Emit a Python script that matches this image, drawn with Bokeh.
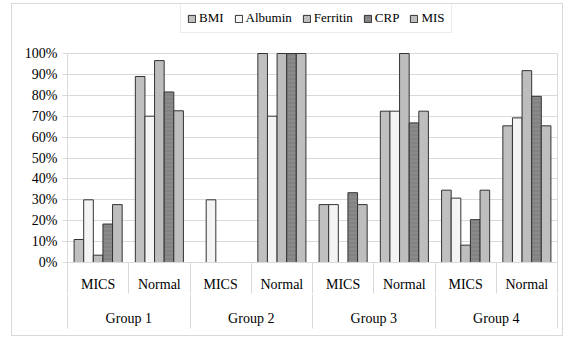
import numpy as np
from bokeh.plotting import figure
from bokeh.models import (ColumnDataSource, Range1d, LinearAxis, FixedTicker,
                          NumeralTickFormatter, Legend, LegendItem)
from bokeh.embed import file_html
from bokeh.resources import INLINE

groups = ["Group 1", "Group 2", "Group 3", "Group 4"]
subgroups = ["MICS", "Normal"]
series = ["BMI", "Albumin", "Ferritin", "CRP", "MIS"]

# values per category: G1 MICS, G1 Normal, G2 MICS, G2 Normal, G3 MICS, G3 Normal, G4 MICS, G4 Normal
bmi      = [0.11, 0.89, 0.00, 1.00, 0.277, 0.724, 0.346, 0.654]
albumin  = [0.30, 0.70, 0.30, 0.70, 0.277, 0.724, 0.308, 0.692]
ferritin = [0.035, 0.966, 0.00, 1.00, 0.00, 1.00, 0.083, 0.918]
crp      = [0.184, 0.816, 0.00, 1.00, 0.334, 0.668, 0.205, 0.795]
mis      = [0.277, 0.726, 0.00, 1.00, 0.277, 0.724, 0.346, 0.654]
values = [bmi, albumin, ferritin, crp, mis]

fills = ["#c0c0c0", "#f4f4f4", "#bdbdbd", "#8a8a8a", "#bebebe"]
hatches = [None, None, None, "horizontal_line", None]

FONT = "'Liberation Serif'"
GRID = "#d9d9d9"

n_cat = len(groups) * len(subgroups)
centers = np.arange(n_cat) + 0.5
bar_w = 0.157

# layout: frame spans full height above the category axes; the value area
# (0..100%) occupies the lower 209 px, the legend sits above it.
H, TOP, BOTTOM = 333, 1, 75
frame_h = H - TOP - BOTTOM
y_end = frame_h / 209.0

p = figure(width=552, height=H, output_backend="svg", toolbar_location=None,
           x_range=Range1d(0, n_cat), y_range=Range1d(0, y_end),
           min_border_left=55, min_border_right=7, min_border_top=TOP,
           min_border_bottom=BOTTOM, x_axis_location=None,
           styles={"margin-left": "11px", "margin-top": "3px",
                   "border": "1px solid #d9d9d9"})
p.outline_line_color = None
p.xgrid.grid_line_color = None
p.ygrid.grid_line_color = GRID
p.ygrid.ticker = FixedTicker(ticks=[i / 10 for i in range(11)])

renderers = []
for j, (name, vals) in enumerate(zip(series, values)):
    vals = np.array(vals)
    mask = vals > 0
    xs = centers[mask] + (j - 2) * bar_w
    src = ColumnDataSource(dict(x=xs, top=vals[mask]))
    kw = {}
    if hatches[j]:
        kw = dict(hatch_pattern=hatches[j], hatch_color="#6a6a6a",
                  hatch_scale=4, hatch_weight=0.6, hatch_alpha=0.8)
    r = p.vbar(x="x", top="top", bottom=0, width=bar_w, source=src,
               fill_color=fills[j], line_color="#333333", line_width=1, **kw)
    renderers.append(r)

# y axis
yax = p.yaxis[0]
yax.bounds = (0, 1)
yax.ticker = FixedTicker(ticks=[i / 10 for i in range(11)])
yax.formatter = NumeralTickFormatter(format="0%")
yax.axis_line_color = GRID
yax.major_tick_line_color = GRID
yax.major_tick_out = 5
yax.major_tick_in = 0
yax.minor_tick_line_color = None
yax.major_label_standoff = 5
yax.major_label_text_font = FONT
yax.major_label_text_font_size = "14px"
yax.major_label_text_color = "#000000"

# right edge of the plot area
rax = LinearAxis(bounds=(0, 1), ticker=FixedTicker(ticks=[]))
rax.axis_line_color = GRID
rax.major_tick_line_color = None
rax.minor_tick_line_color = None
rax.major_label_text_font_size = "0px"
rax.major_tick_out = 0
rax.major_label_standoff = 0
p.add_layout(rax, "right")

# sub-category axis
sub_labels = {float(c): subgroups[i % 2] for i, c in enumerate(centers)}
ax1 = LinearAxis(ticker=FixedTicker(ticks=list(centers),
                                    minor_ticks=list(range(n_cat + 1))))
ax1.major_label_overrides = sub_labels
ax1.major_tick_out = 0
ax1.major_tick_in = 0
ax1.major_tick_line_color = None
ax1.minor_tick_out = 31
ax1.minor_tick_in = 0
ax1.minor_tick_line_color = GRID
ax1.axis_line_color = GRID
ax1.major_label_standoff = -17
ax1.major_label_text_font = FONT
ax1.major_label_text_font_size = "14px"
ax1.major_label_text_color = "#000000"
p.add_layout(ax1, "below")

# group axis
group_centers = [float(2 * g + 1) for g in range(len(groups))]
ax2 = LinearAxis(ticker=FixedTicker(ticks=group_centers,
                                    minor_ticks=list(range(0, n_cat + 1, 2))))
ax2.major_label_overrides = {c: groups[i] for i, c in enumerate(group_centers)}
ax2.major_tick_out = 0
ax2.major_tick_in = 0
ax2.major_tick_line_color = None
ax2.minor_tick_out = 34
ax2.minor_tick_in = 0
ax2.minor_tick_line_color = GRID
ax2.axis_line_color = None
ax2.major_label_standoff = -18
ax2.major_label_text_font = FONT
ax2.major_label_text_font_size = "14px"
ax2.major_label_text_color = "#000000"
p.add_layout(ax2, "below")

legend = Legend(items=[LegendItem(label=s, renderers=[r]) for s, r in zip(series, renderers)],
                orientation="horizontal", location=(113, 229))
legend.label_text_font = FONT
legend.label_text_font_size = "13px"
legend.label_text_color = "#000000"
legend.glyph_width = 9
legend.glyph_height = 9
legend.label_standoff = 3
legend.spacing = 10
legend.padding = 6
legend.margin = 0
legend.border_line_color = GRID
legend.background_fill_color = "white"
legend.label_height = 13
p.add_layout(legend, "center")

open("out.html", "w").write(file_html(p, INLINE))
